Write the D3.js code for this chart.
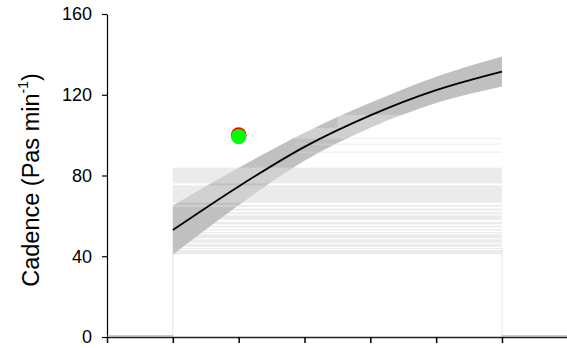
<!DOCTYPE html>
<html>
<head>
<meta charset="utf-8">
<script src="https://cdn.jsdelivr.net/npm/d3@7"></script>
<style>
  body { margin: 0; background: #fff; }
  svg { display: block; font-family: 'Liberation Sans', Arial, sans-serif; }
</style>
</head>
<body>
<svg id="chart" width="567" height="348"></svg>
<script>
// model fit (x = stage index)
const xs = [1, 2, 3, 4, 5, 6]
const fit = [53, 74.6, 94.2, 109.8, 122.3, 131.5]
const lower = [40.8, 65.3, 87.3, 103.6, 115.9, 124.1]
const upper = [65.2, 83.8, 101.2, 116.0, 128.9, 138.9]

// observed value
const pointX = 2
const pointY = 99.6

// grey horizontal bands [low, high, start x]
const bandsUnder = [
  [62.6, 63.6, 1], [60.8, 61.8, 1], [58.0, 60.3, 1], [55.8, 57.1, 1],
  [54.3, 55.1, 1], [52.7, 53.4, 1], [51.4, 52.0, 1], [48.9, 50.9, 1],
  [46.7, 48.4, 1], [44.7, 46.2, 1], [43.6, 44.1, 1], [41.0, 43.1, 1]
]
const bandsOver = [
  [64.5, 65.4, 1], [66.5, 75.1, 1], [76.1, 83.9, 1],
  [91.3, 91.8, 2.85], [95.3, 95.8, 2.85], [98.2, 98.7, 2.85]
]
const bandsPale = [[98.7, 103.5, 2.85], [103.5, 110, 3.5]]

const yTicks = [0, 40, 80, 120, 160]
const xTicks = [0, 1, 2, 3, 4, 5, 6, 7]

const svg = d3.select('#chart')
const x = d3.scaleLinear().domain([0, 7]).range([107, 567.8])
const y = d3.scaleLinear().domain([0, 160]).range([337, 14])
const xEnd = 6

const bandRects = (cls, data) =>
  svg.append('g').attr('class', cls)
    .selectAll('rect').data(data).join('rect')
    .attr('x', (d) => x(d[2]))
    .attr('width', (d) => x(xEnd) - x(d[2]))
    .attr('y', (d) => y(d[1]))
    .attr('height', (d) => y(d[0]) - y(d[1]))

// bands below the ribbon
bandRects('bandsUnder', bandsUnder).attr('fill', '#ebebeb')

// faint vertical edges
svg.append('g')
  .selectAll('line').data([[1, 41], [6, 44]]).join('line')
  .attr('x1', (d) => x(d[0])).attr('x2', (d) => x(d[0]))
  .attr('y1', y(0)).attr('y2', (d) => y(d[1]))
  .attr('stroke', '#e6e6e6').attr('stroke-width', 1)

// confidence ribbon
const rows = xs.map((v, i) => ({ x: v, lo: lower[i], hi: upper[i], f: fit[i] }))
const area = d3.area()
  .x((d) => x(d.x)).y0((d) => y(d.lo)).y1((d) => y(d.hi))
  .curve(d3.curveMonotoneX)
svg.append('path').attr('d', area(rows)).attr('fill', '#c0c0c0')

// bands on top of the ribbon
bandRects('bandsOver', bandsOver).attr('fill', '#dcdcdc').attr('fill-opacity', 0.57)
bandRects('bandsPale', bandsPale).attr('fill', '#fff').attr('fill-opacity', 0.25)

// fitted line
const line = d3.line().x((d) => x(d.x)).y((d) => y(d.f)).curve(d3.curveMonotoneX)
svg.append('path').attr('d', line(rows))
  .attr('fill', 'none').attr('stroke', '#000').attr('stroke-width', 1.8)

// axes
const yAxis = svg.append('g')
  .attr('transform', `translate(${x(0)},0)`)
  .call(d3.axisLeft(y).tickValues(yTicks).tickSize(5).tickPadding(10).tickSizeOuter(0))
yAxis.select('.domain').attr('stroke', '#000').attr('stroke-width', 1.2)
yAxis.selectAll('.tick line').attr('stroke', '#000').attr('stroke-width', 1.2)
yAxis.selectAll('text').attr('font-size', 18).attr('fill', '#000')
  .attr('font-family', "'Liberation Sans', Arial, sans-serif")

const xAxis = svg.append('g')
  .attr('transform', `translate(0,${y(0)})`)
  .call(d3.axisBottom(x).tickValues(xTicks).tickSize(6).tickFormat('').tickSizeOuter(0))
xAxis.select('.domain').attr('stroke', '#222').attr('stroke-width', 1.5)
xAxis.selectAll('.tick line').attr('stroke', '#000').attr('stroke-width', 1.5)

// grey baseline outside the fitted range
svg.append('g')
  .selectAll('line').data([[0, 1], [6, 7]]).join('line')
  .attr('x1', (d) => x(d[0])).attr('x2', (d) => x(d[1]))
  .attr('y1', y(0) - 1).attr('y2', y(0) - 1)
  .attr('stroke', '#9a9a9a').attr('stroke-width', 1.2)

// observed point
svg.append('circle').attr('cx', x(pointX)).attr('cy', y(pointY) - 0.8)
  .attr('r', 7.8).attr('fill', '#ff0000')
svg.append('circle').attr('cx', x(pointX)).attr('cy', y(pointY) + 0.6)
  .attr('r', 7.6).attr('fill', '#00ff00')

// y axis title
const title = svg.append('text')
  .attr('transform', 'translate(38.5,180) rotate(-90)')
  .attr('text-anchor', 'middle')
  .attr('font-size', 23.5)
  .attr('fill', '#000')
title.append('tspan').text('Cadence (Pas min')
title.append('tspan').attr('font-size', 14).attr('dy', -11).text('-1')
title.append('tspan').attr('dy', 11).text(')')
</script>
</body>
</html>
